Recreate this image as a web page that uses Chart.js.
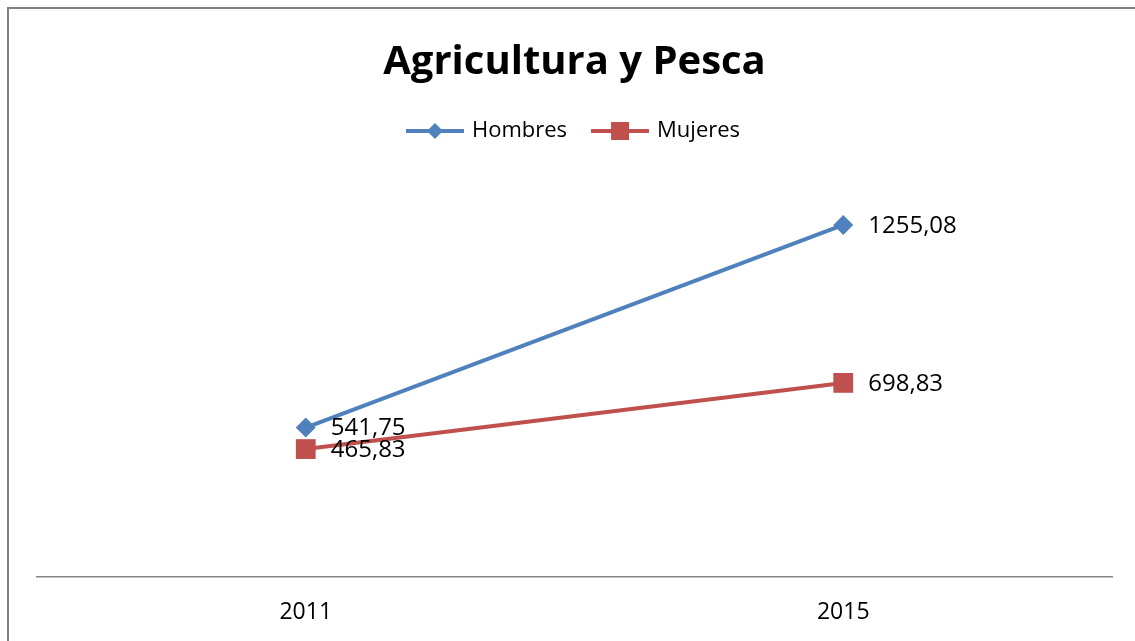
<!DOCTYPE html>
<html>
<head>
<meta charset="utf-8">
<script src="https://cdn.jsdelivr.net/npm/chart.js@4/dist/chart.umd.min.js"></script>
<style>
  html, body { margin: 0; padding: 0; background: #fff; overflow: hidden; }
</style>
</head>
<body>
<canvas id="myChart" width="1135" height="647"></canvas>
<script>
"use strict";
var years = ['2011', '2015'];
var hombres = [541.75, 1255.08];
var mujeres = [465.83, 698.83];
var seriesNames = ['Hombres', 'Mujeres'];
var colors = ['#4F81BD', '#C0504D'];

// little line + marker picture for the legend
function legendIcon(color, shape) {
  var c = document.createElement('canvas');
  c.width = 58;
  c.height = 22;
  var g = c.getContext('2d');
  g.strokeStyle = color;
  g.lineWidth = 4;
  g.beginPath();
  g.moveTo(0, 11);
  g.lineTo(58, 11);
  g.stroke();
  g.fillStyle = color;
  g.beginPath();
  if (shape === 'diamond') {
    g.moveTo(29, 3); g.lineTo(37, 11); g.lineTo(29, 19); g.lineTo(21, 11);
    g.closePath();
  } else {
    g.rect(20, 2, 18, 18);
  }
  g.fill();
  return c;
}
var icons = [legendIcon(colors[0], 'diamond'), legendIcon(colors[1], 'square')];

var framePlugin = {
  id: 'frame',
  beforeDraw: function(chart) {
    var ctx = chart.ctx;
    ctx.save();
    ctx.fillStyle = '#fff';
    ctx.fillRect(0, 0, chart.width, chart.height);
    ctx.strokeStyle = '#808080';
    ctx.lineWidth = 2;
    ctx.beginPath();
    ctx.moveTo(8, chart.height);
    ctx.lineTo(8, 8);
    ctx.lineTo(chart.width, 8);
    ctx.stroke();
    ctx.restore();
  }
};

var valueLabels = {
  id: 'valueLabels',
  afterDatasetsDraw: function(chart) {
    var ctx = chart.ctx;
    ctx.save();
    ctx.font = '24px "Open Sans"';
    ctx.fillStyle = '#000';
    ctx.textBaseline = 'middle';
    ctx.textAlign = 'left';
    chart.data.datasets.forEach(function(ds, i) {
      chart.getDatasetMeta(i).data.forEach(function(pt, j) {
        ctx.fillText(ds.data[j].toFixed(2).replace('.', ','), pt.x + 25, pt.y + 1);
      });
    });
    ctx.restore();
  }
};

function createChart() {
  var ctx = document.getElementById('myChart').getContext('2d');
  var chart = new Chart(ctx, {
    type: 'line',
    data: {
      labels: years,
      datasets: [{
        label: seriesNames[0],
        data: hombres,
        borderColor: colors[0],
        backgroundColor: colors[0],
        borderWidth: 4,
        pointStyle: 'rectRot',
        pointRadius: 10,
        pointBorderWidth: 0
      }, {
        label: seriesNames[1],
        data: mujeres,
        borderColor: colors[1],
        backgroundColor: colors[1],
        borderWidth: 4,
        pointStyle: 'rect',
        pointRadius: 14,
        pointBorderWidth: 0
      }]
    },
    options: {
      responsive: false,
      animation: false,
      layout: { padding: { left: 37, right: 23, top: 0, bottom: 0 } },
      plugins: {
        title: {
          display: true,
          text: 'Agricultura y Pesca',
          color: '#000',
          font: { family: '"Open Sans"', size: 40, weight: 'bold' },
          padding: { top: 39, bottom: 6 }
        },
        legend: {
          labels: {
            color: '#000',
            font: { family: '"Open Sans"', size: 22 },
            usePointStyle: true,
            pointStyleWidth: 52,
            padding: 27,
            generateLabels: function(chart) {
              return chart.data.datasets.map(function(ds, i) {
                return {
                  text: ds.label,
                  pointStyle: icons[i],
                  fillStyle: colors[i],
                  strokeStyle: colors[i],
                  lineWidth: 0,
                  hidden: false,
                  datasetIndex: i
                };
              });
            }
          }
        },
        tooltip: { enabled: false }
      },
      scales: {
        x: {
          offset: true,
          grid: { display: false, drawTicks: false },
          border: { display: true, color: '#868686', width: 1.5 },
          ticks: { color: '#000', font: { family: '"Open Sans"', size: 23, lineHeight: 1.04 }, padding: 23 }
        },
        y: {
          display: false,
          min: 15,
          max: 1512
        }
      }
    },
    plugins: [framePlugin, valueLabels]
  });
  return chart;
}

createChart();
</script>
</body>
</html>
